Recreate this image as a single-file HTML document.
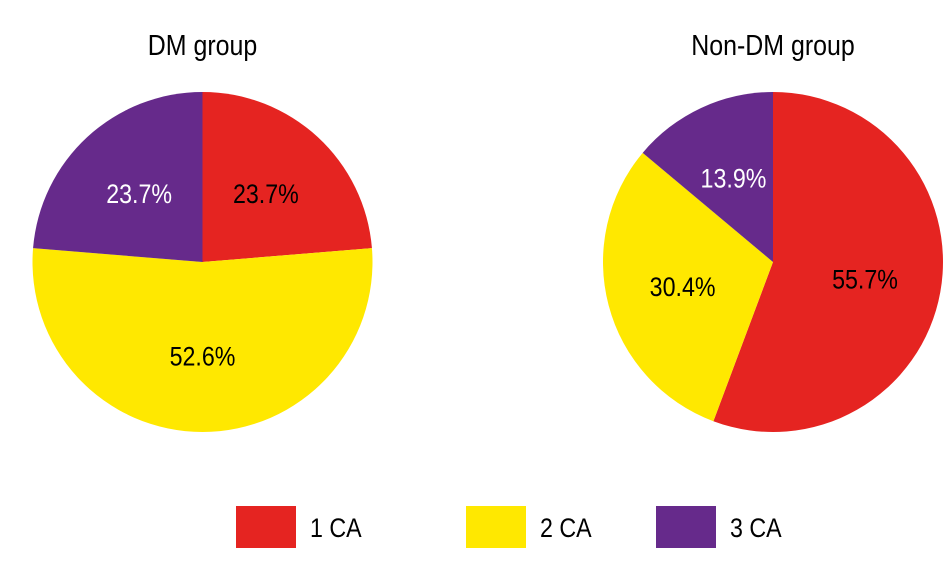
<!DOCTYPE html>
<html><head><meta charset="utf-8">
<style>
body{margin:0;background:#fff;width:947px;height:556px;overflow:hidden;font-family:"Liberation Sans",sans-serif;}
</style></head>
<body>
<svg id="chart" width="947" height="556" xmlns="http://www.w3.org/2000/svg" font-family="Liberation Sans, sans-serif"></svg>
<script>
const categories = ["1 CA","2 CA","3 CA"];
const colors = ["#e52421","#ffe800","#662a8b"];
const groupNames = ["DM group","Non-DM group"];
const dmValues = [23.7, 52.6, 23.7];
const nonDmValues = [55.7, 30.4, 13.9];
const labelColors = ["#000","#000","#fff"];

const svg = document.getElementById('chart');
const NS = "http://www.w3.org/2000/svg";
function mk(tag, attrs){const e=document.createElementNS(NS,tag);for(const k in attrs)e.setAttribute(k,attrs[k]);svg.appendChild(e);return e;}
function txt(x,y,size,fill,anchor,str){
  const t = mk('text',{transform:`translate(${x},${y}) scale(0.86,1)`,x:0,y:0,'text-anchor':anchor,'font-size':size,fill:fill});
  t.textContent = str; return t;
}

function drawPie(values, cx, cy, r, title, key){
  const t = txt(cx, 55, 29, '#000', 'middle', title);
  
  
  const total = values.reduce((a,b)=>a+b,0);
  let acc = 0;
  values.forEach((v,i)=>{
    const a0 = acc/total*2*Math.PI; acc += v; const a1 = acc/total*2*Math.PI;
    const x0 = cx + r*Math.sin(a0), y0 = cy - r*Math.cos(a0);
    const x1 = cx + r*Math.sin(a1), y1 = cy - r*Math.cos(a1);
    const large = (a1-a0) > Math.PI ? 1 : 0;
    const p = mk('path',{d:`M${cx},${cy} L${x0},${y0} A${r},${r} 0 ${large} 1 ${x1},${y1} Z`,fill:colors[i]});
    
    
  });
  acc = 0;
  values.forEach((v,i)=>{
    const am = (acc+v/2)/total*2*Math.PI; acc += v;
    const lr = r*0.55;
    const lx = cx + lr*Math.sin(am), ly = cy - lr*Math.cos(am);
    const l = txt(lx, ly+10, 27, labelColors[i], 'middle', v.toFixed(1)+'%');
    
    
  });
}
drawPie(dmValues, 202.5, 262, 170, groupNames[0], 'dm');
drawPie(nonDmValues, 773, 262, 170, groupNames[1], 'non-dm');

const legendX = [236, 466, 656];
categories.forEach((c,i)=>{
  const r = mk('rect',{x:legendX[i],y:506,width:60,height:42,fill:colors[i]});
  
  
  const t = txt(legendX[i]+74, 537, 27, '#000', 'start', c);
  
  
});
</script>
</body></html>
